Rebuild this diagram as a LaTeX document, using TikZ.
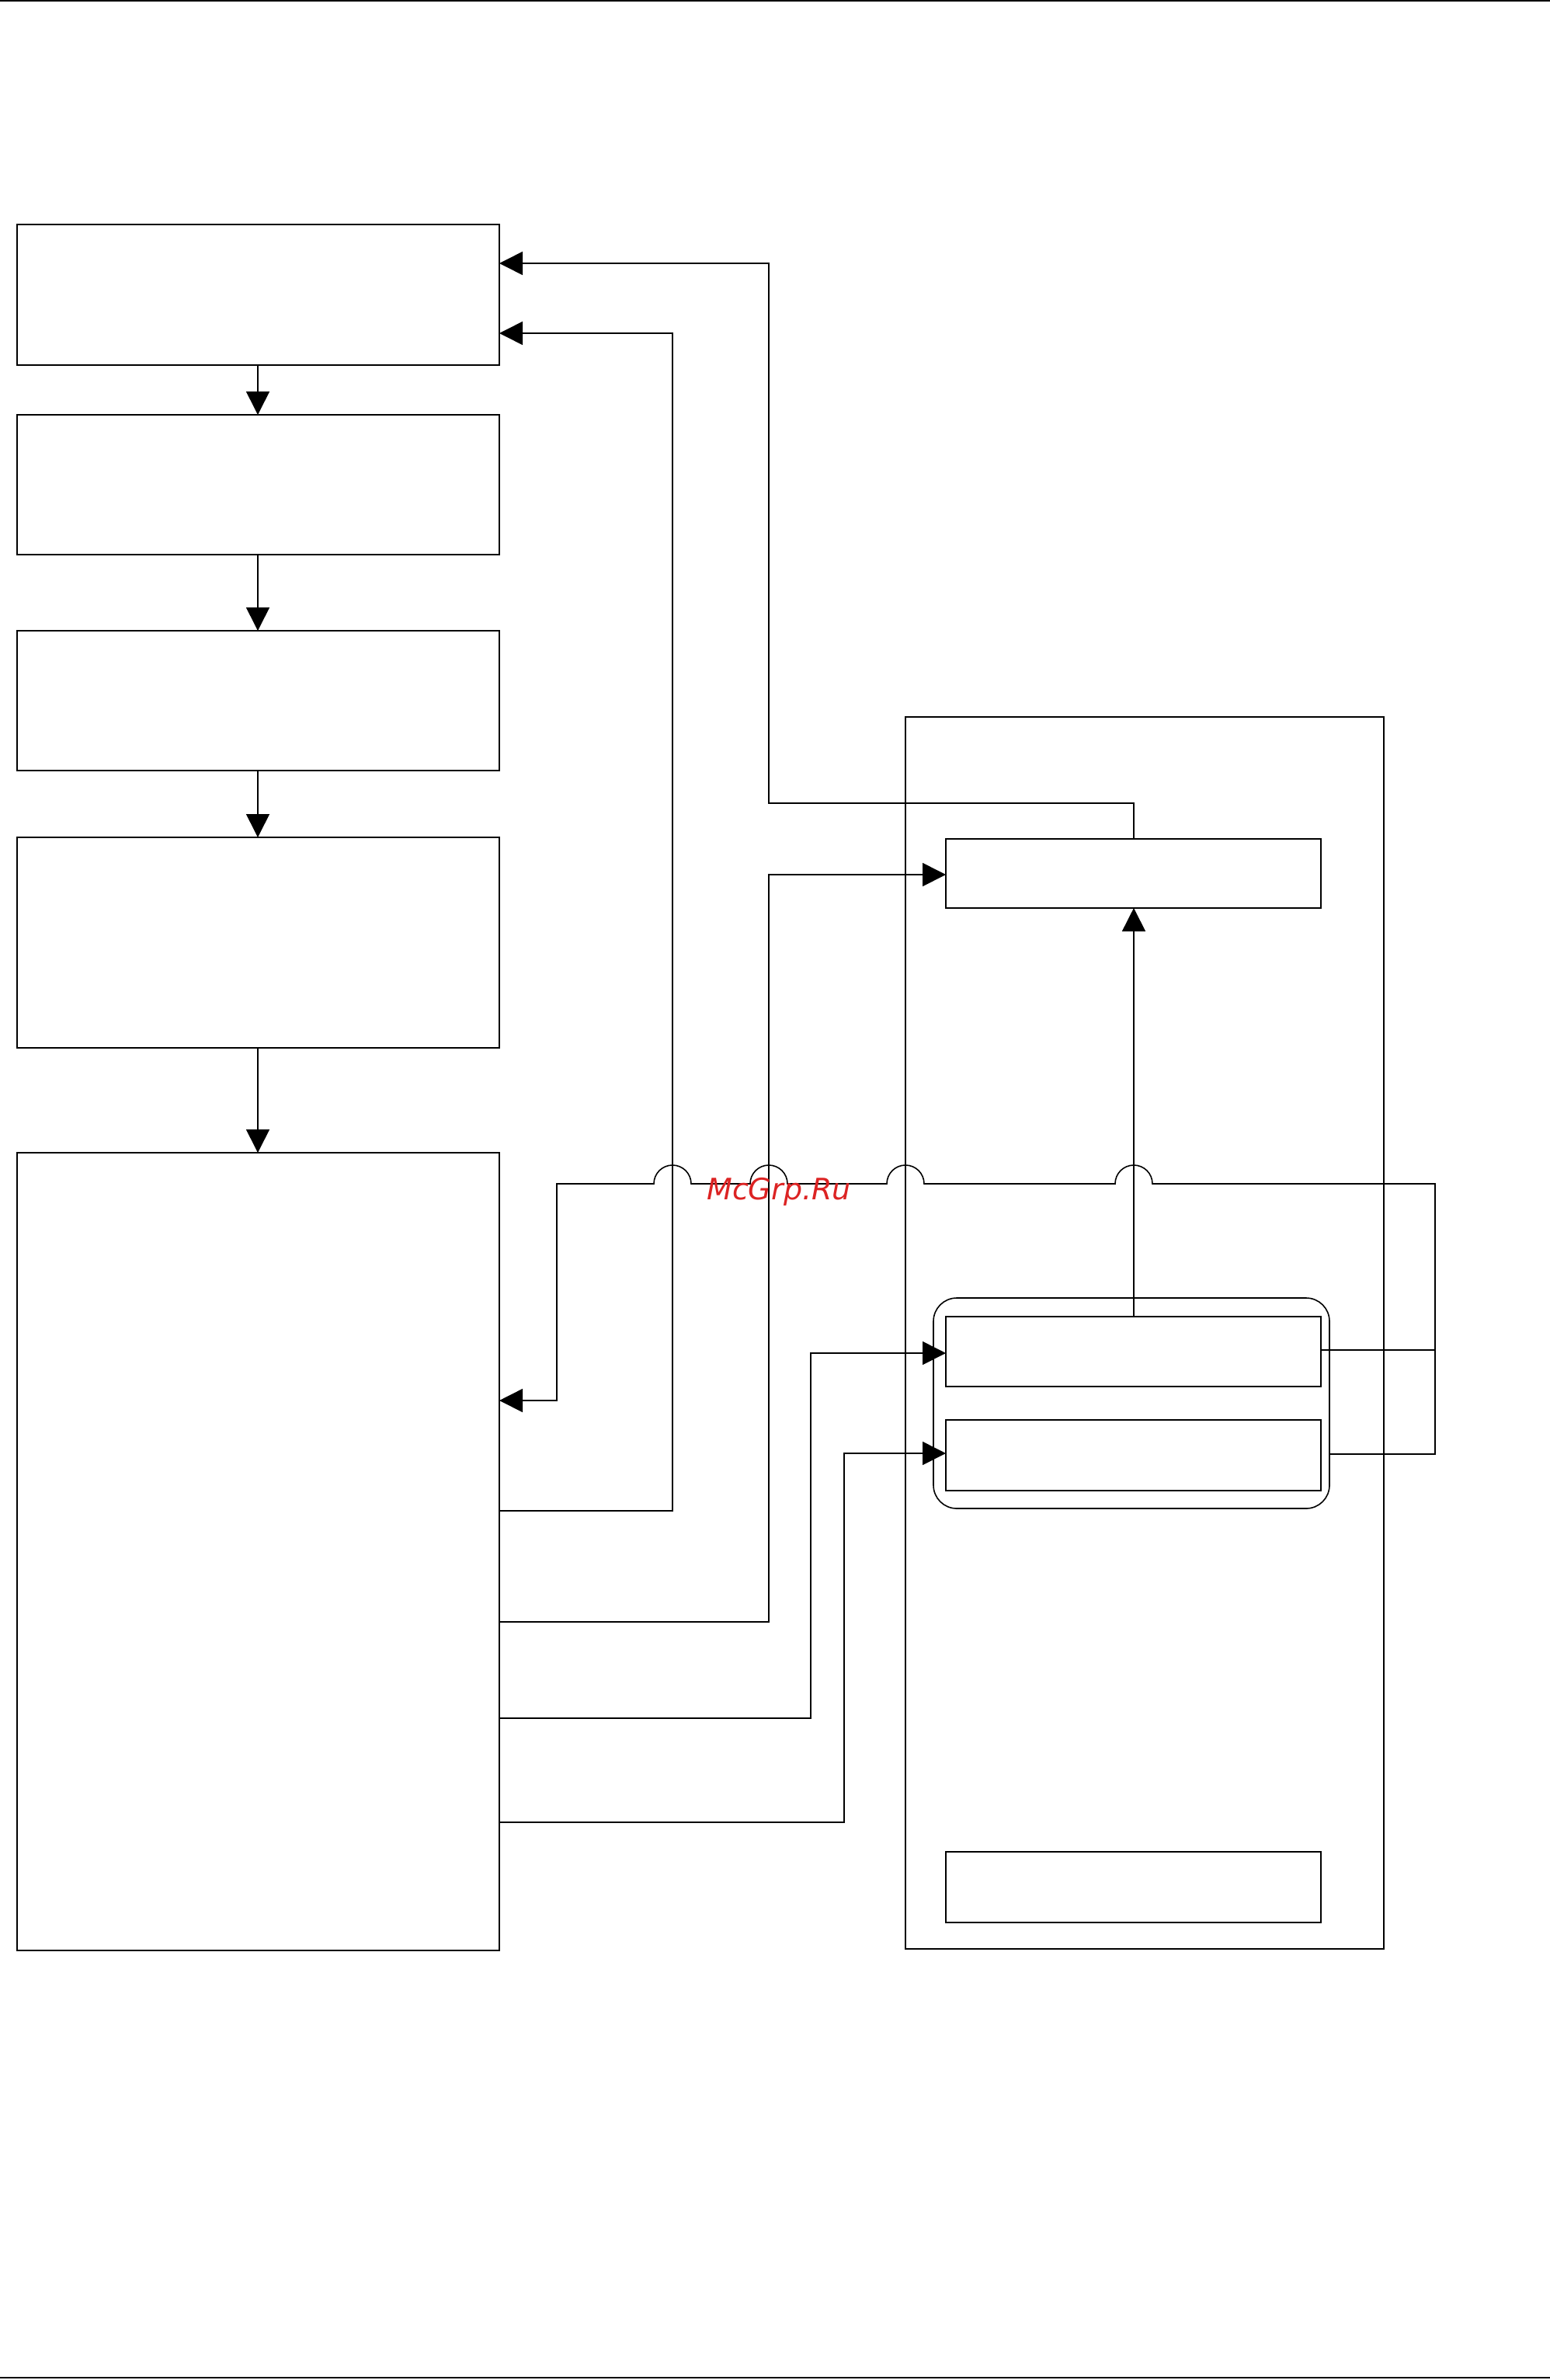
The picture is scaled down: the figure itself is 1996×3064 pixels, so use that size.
\documentclass[tikz,border=0pt]{standalone}
\usepackage{fontspec}
\newfontfamily\wmfont{DejaVu Sans}
\usetikzlibrary{arrows.meta}
\definecolor{wmred}{RGB}{220,35,35}
\begin{document}
\begin{tikzpicture}[x=1pt,y=-1pt,line width=1.6pt,
  blk/.style={draw,line width=1.6pt},
  conn/.style={line width=1.6pt},
  arr/.style={conn,-{Triangle[length=30pt,width=30pt]}}]
\useasboundingbox (0,0) rectangle (1996,3064);
\draw[line width=2pt] (0,1) -- (1996,1);
\draw[line width=2pt] (0,3061) -- (1996,3061);
% left column
\draw[blk] (22,289) rectangle (643,470);
\draw[blk] (22,534) rectangle (643,714);
\draw[blk] (22,812) rectangle (643,992);
\draw[blk] (22,1078) rectangle (643,1349);
\draw[blk] (22,1484) rectangle (643,2511);
\node (n1) at (332,380) {}; \node (n2) at (332,624) {}; \node (n3) at (332,902) {}; \node (n4) at (332,1213) {}; \node (n5) at (332,1997) {};
\draw[arr] (332,470) -- (332,534);
\draw[arr] (332,714) -- (332,812);
\draw[arr] (332,992) -- (332,1078);
\draw[arr] (332,1349) -- (332,1484);
% right side
\draw[blk] (1166,923) rectangle (1782,2509);
\draw[blk] (1218,1080) rectangle (1701,1169); \node (tr) at (1460,1124) {};
\draw[blk,rounded corners=30pt] (1202,1671) rectangle (1712,1942);
\draw[blk] (1218,1695) rectangle (1701,1785); \node (ba) at (1460,1740) {};
\draw[blk] (1218,1828) rectangle (1701,1919); \node (bb) at (1460,1873) {};
\draw[blk] (1218,2384) rectangle (1701,2475); \node (bc) at (1460,2430) {};
% connectors
\draw[arr] (1460,1080) -- (1460,1034) -- (990,1034) -- (990,339) -- (643,339);
\draw[arr] (643,1945) -- (866,1945) -- (866,429) -- (643,429);
\draw[arr] (643,2088) -- (990,2088) -- (990,1126) -- (1218,1126);
\draw[arr] (643,2212) -- (1044,2212) -- (1044,1742) -- (1218,1742);
\draw[arr] (643,2346) -- (1087,2346) -- (1087,1871) -- (1218,1871);
\draw[arr] (1460,1695) -- (1460,1169);
\draw[conn] (1701,1738) -- (1848,1738);
\draw[arr] (1712,1872) -- (1848,1872) -- (1848,1524) -- (1484,1524)
  arc[start angle=0,end angle=-180,x radius=24,y radius=24] -- (1190,1524)
  arc[start angle=0,end angle=-180,x radius=24,y radius=24] -- (1014,1524)
  arc[start angle=0,end angle=-180,x radius=24,y radius=24] -- (890,1524)
  arc[start angle=0,end angle=-180,x radius=24,y radius=24] -- (717,1524)
  -- (717,1803) -- (643,1803);
\node[text=wmred,font={\wmfont\itshape\fontsize{38}{44}\selectfont}] (wm) at (1003,1534) {McGrp.Ru};
\end{tikzpicture}
\end{document}
